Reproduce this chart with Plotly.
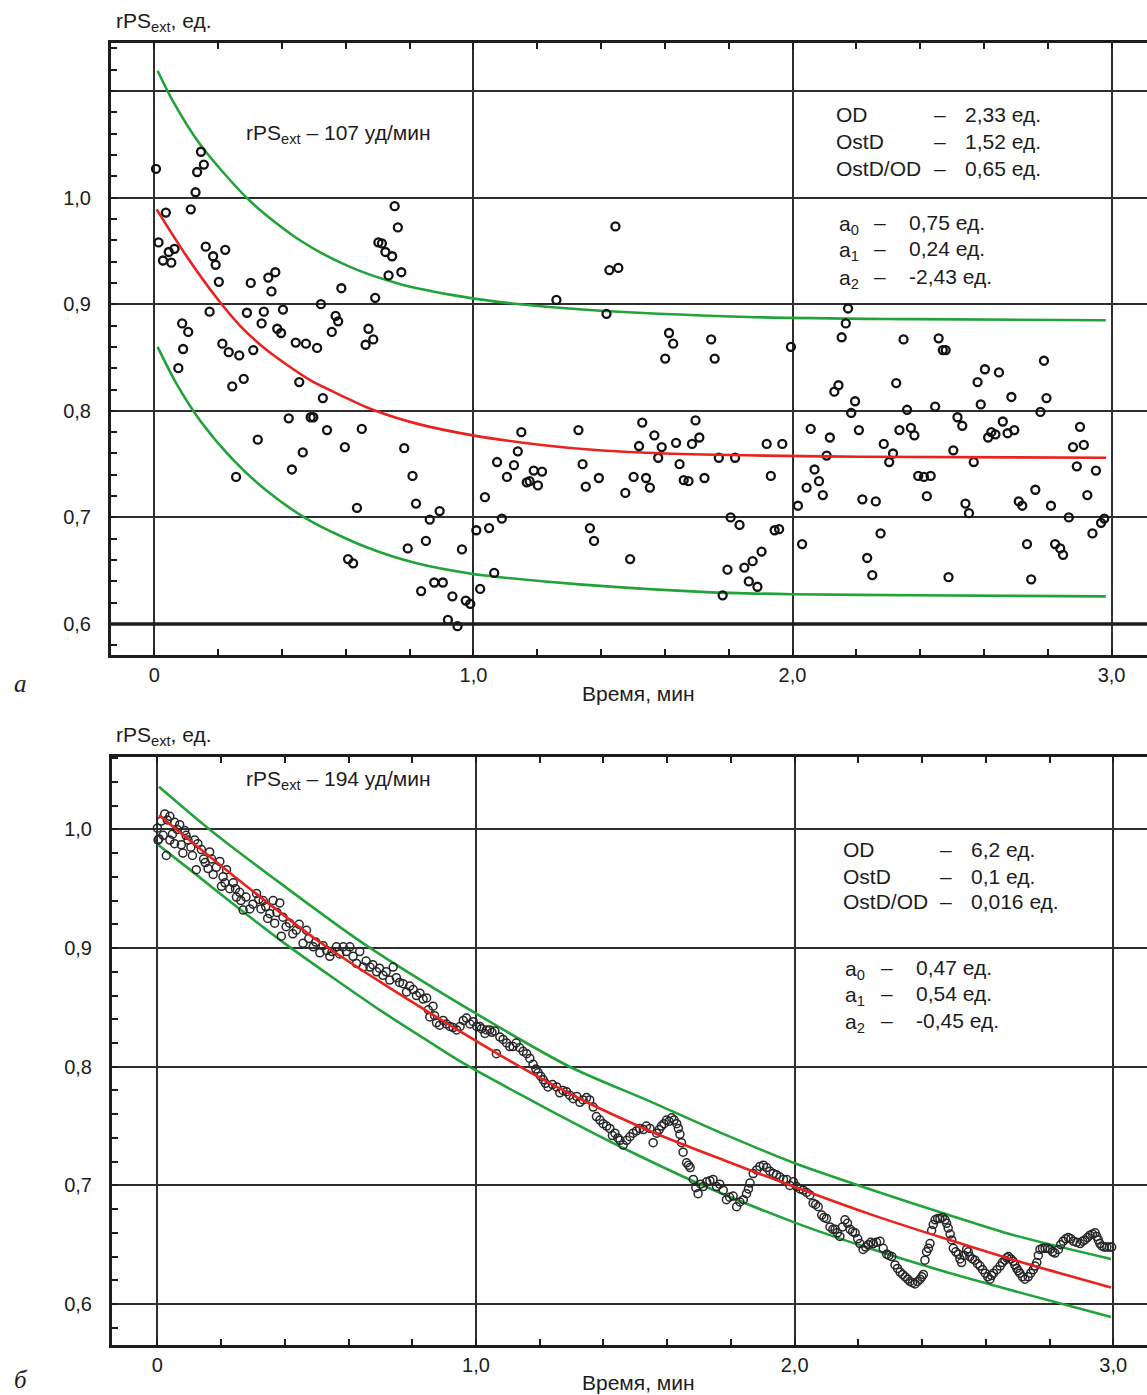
import plotly.graph_objects as go

# ---------------- Panel a (top) : rPSext 107 уд/мин ----------------
top_pts_t = [0.005, 0.146, 0.155, 0.134, 0.129, 0.114, 0.036, 0.013, 0.045, 0.063, 0.027, 0.053,
             0.161, 0.184, 0.192, 0.222, 0.202, 0.302, 0.357, 0.379, 0.367, 0.173, 0.290, 0.343,
             0.403, 0.087, 0.106, 0.336, 0.385, 0.397, 0.522, 0.568, 0.576, 0.556, 0.586, 0.692,
             0.753, 0.763, 0.702, 0.713, 0.724, 0.745, 0.734, 0.774, 0.671, 0.213, 0.443, 0.475,
             0.510, 0.662, 0.686, 0.090, 0.233, 0.266, 0.310, 0.075, 0.244, 0.280, 0.454, 0.528,
             0.421, 0.490, 0.498, 0.541, 0.324, 0.650, 0.597, 0.465, 0.431, 0.256, 0.783, 0.809,
             0.635, 0.820, 0.894, 0.863, 1.036, 1.074, 1.009, 1.049, 0.794, 0.851, 0.964, 0.607,
             0.623, 0.877, 0.904, 0.836, 0.934, 0.976, 0.990, 1.021, 1.065, 0.920, 0.950,
             1.445, 1.426, 1.454, 1.260, 1.417, 1.613, 1.626, 1.745, 1.995, 2.174, 2.167, 2.154,
             2.348, 2.458, 2.471, 2.480, 1.756, 1.601, 2.788, 2.580, 2.603, 2.647, 2.325, 2.131,
             2.144, 2.686, 2.796, 2.196, 2.184, 2.447, 2.359, 2.590, 2.777, 2.517, 2.532, 1.696,
             1.529, 1.150, 1.329, 2.057, 2.208, 2.335, 2.371, 2.382, 2.659, 2.623, 2.613, 2.636,
             2.674, 2.695, 2.901, 1.567, 1.708, 2.117, 1.519, 1.590, 1.635, 1.685, 1.919, 1.968,
             2.286, 2.879, 2.913, 1.139, 2.504, 1.579, 1.769, 1.820, 2.107, 2.315, 2.303, 2.568,
             2.891, 1.342, 1.646, 1.105, 1.127, 1.189, 1.215, 1.202, 1.167, 1.176, 1.393, 1.352,
             1.502, 1.541, 1.553, 1.659, 1.674, 1.724, 1.932, 1.476, 2.069, 2.044, 2.083, 2.095,
             2.951, 2.394, 2.412, 2.433, 2.421, 2.761, 2.924, 2.219, 2.261, 2.017, 2.542, 2.553,
             2.709, 2.720, 2.810, 2.866, 2.977, 2.967, 2.940, 1.089, 1.806, 1.834, 1.365, 1.378,
             1.944, 1.958, 2.276, 2.030, 2.735, 2.823, 2.839, 2.848, 1.491, 2.234, 1.796, 1.849,
             1.875, 1.903, 1.863, 1.890, 2.250, 2.489, 2.748, 1.781]
top_pts_y = [1.027, 1.043, 1.031, 1.024, 1.005, 0.989, 0.986, 0.958, 0.949, 0.952, 0.941, 0.939,
             0.954, 0.945, 0.937, 0.951, 0.921, 0.920, 0.925, 0.930, 0.912, 0.893, 0.892, 0.893,
             0.895, 0.882, 0.874, 0.882, 0.877, 0.873, 0.900, 0.889, 0.884, 0.874, 0.915, 0.906,
             0.992, 0.972, 0.958, 0.957, 0.949, 0.945, 0.927, 0.930, 0.877, 0.863, 0.864, 0.863,
             0.859, 0.862, 0.867, 0.858, 0.855, 0.852, 0.857, 0.840, 0.823, 0.830, 0.827, 0.812,
             0.793, 0.794, 0.794, 0.782, 0.773, 0.783, 0.766, 0.761, 0.745, 0.738, 0.765, 0.739,
             0.709, 0.713, 0.706, 0.698, 0.719, 0.752, 0.688, 0.690, 0.671, 0.678, 0.670, 0.661,
             0.657, 0.639, 0.639, 0.631, 0.626, 0.622, 0.619, 0.633, 0.648, 0.604, 0.598,
             0.973, 0.932, 0.934, 0.904, 0.891, 0.873, 0.863, 0.867, 0.860, 0.896, 0.882, 0.869,
             0.867, 0.868, 0.857, 0.857, 0.849, 0.849, 0.847, 0.827, 0.839, 0.836, 0.826, 0.818,
             0.824, 0.813, 0.812, 0.809, 0.798, 0.804, 0.801, 0.806, 0.799, 0.794, 0.786, 0.791,
             0.789, 0.780, 0.782, 0.783, 0.782, 0.782, 0.784, 0.777, 0.790, 0.780, 0.775, 0.778,
             0.779, 0.782, 0.785, 0.777, 0.775, 0.775, 0.767, 0.766, 0.770, 0.769, 0.769, 0.769,
             0.769, 0.766, 0.768, 0.762, 0.763, 0.756, 0.756, 0.756, 0.758, 0.760, 0.752, 0.752,
             0.748, 0.750, 0.750, 0.738, 0.749, 0.744, 0.743, 0.730, 0.733, 0.734, 0.737, 0.729,
             0.738, 0.737, 0.728, 0.735, 0.734, 0.737, 0.739, 0.723, 0.745, 0.728, 0.734, 0.721,
             0.744, 0.739, 0.738, 0.739, 0.720, 0.726, 0.721, 0.717, 0.715, 0.711, 0.713, 0.704,
             0.715, 0.711, 0.711, 0.700, 0.699, 0.695, 0.685, 0.699, 0.700, 0.693, 0.690, 0.678,
             0.688, 0.689, 0.685, 0.675, 0.675, 0.675, 0.671, 0.665, 0.661, 0.662, 0.651, 0.653,
             0.659, 0.668, 0.640, 0.635, 0.646, 0.644, 0.642, 0.627]

top_fit_t = [0.007, 0.101, 0.195, 0.268, 0.352, 0.487, 0.560, 0.685, 0.822, 0.998,
             1.213, 1.394, 1.601, 1.910, 2.208, 2.983]
top_fit_y = [0.989, 0.945, 0.906, 0.880, 0.857, 0.829, 0.818, 0.801, 0.788, 0.777,
             0.768, 0.763, 0.760, 0.758, 0.757, 0.756]
top_upper_t = [0.010, 0.059, 0.143, 0.299, 0.456, 0.613, 0.769, 0.926, 1.083, 1.342, 1.859,
               2.377, 2.982]
top_upper_y = [1.119, 1.090, 1.050, 0.997, 0.960, 0.935, 0.919, 0.909, 0.902, 0.895, 0.888,
               0.886, 0.885]
top_lower_t = [0.010, 0.070, 0.143, 0.247, 0.352, 0.487, 0.665, 0.822, 0.998, 1.083, 1.342,
               1.730, 1.999, 2.377, 2.982]
top_lower_y = [0.860, 0.825, 0.791, 0.754, 0.725, 0.697, 0.672, 0.657, 0.647, 0.644, 0.637,
               0.630, 0.628, 0.627, 0.626]

# ---------------- Panel б (bottom) : rPSext 194 уд/мин ----------------
bot_pts_t = [0.000, 0.002, 0.018, 0.023, 0.028, 0.039, 0.039, 0.054, 0.054, 0.070, 0.080, 0.086,
             0.096, 0.117, 0.127, 0.122, 0.164, 0.159, 0.175, 0.196, 0.217, 0.201, 0.227, 0.248,
             0.258, 0.269, 0.290, 0.311, 0.332, 0.363, 0.384, 0.353, 0.368, 0.394, 0.389, 0.415,
             0.436, 0.468, 0.457, 0.489, 0.510, 0.531, 0.541, 0.562, 0.583, 0.604, 0.635, 0.625,
             0.646, 0.667, 0.688, 0.708, 0.729, 0.750, 0.740, 0.771, 0.782, 0.803, 0.824, 0.845,
             0.865, 0.855, 0.876, 0.897, 0.918, 0.939, 0.960, 0.981, 1.002, 1.012, 1.028, 1.033,
             1.043, 1.059, 1.064, 1.075, 1.096, 1.116, 1.137, 1.159, 1.169, 1.179, 1.195, 1.211,
             1.226, 1.253, 1.273, 1.294, 1.316, 1.336, 1.357, 1.368, 1.378, 1.399, 1.420, 1.436,
             1.452, 1.462, 1.473, 1.493, 1.514, 1.535, 1.546, 1.556, 1.567, 1.582, 1.598, 1.614,
             1.630, 1.640, 1.645, 1.661, 1.672, 1.682, 1.697, 1.713, 1.724, 1.744, 1.755, 1.776,
             1.786, 1.807, 1.818, 1.839, 1.849, 1.860, 1.870, 1.891, 1.912, 1.933, 1.954, 1.975,
             1.996, 2.006, 2.027, 2.048, 2.058, 2.074, 2.085, 2.100, 2.111, 2.127, 2.142, 2.158,
             2.174, 2.190, 2.205, 2.215, 2.231, 2.247, 2.268, 2.278, 2.289, 2.305, 2.315, 2.331,
             2.347, 2.362, 2.378, 2.394, 2.404, 2.409, 2.414, 2.425, 2.430, 2.441, 2.456, 2.472,
             2.482, 2.493, 2.498, 2.514, 2.524, 2.540, 2.550, 2.566, 2.582, 2.598, 2.613, 2.624,
             2.645, 2.660, 2.671, 2.686, 2.697, 2.707, 2.723, 2.733, 2.749, 2.760, 2.770, 2.786,
             2.802, 2.817, 2.828, 2.843, 2.859, 2.875, 2.896, 2.911, 2.927, 2.943, 2.953, 2.964,
             2.980, 2.995,
             0.005, 0.012, 0.031, 0.047, 0.062, 0.075, 0.090, 0.105, 0.110, 0.138, 0.145, 0.150,
             0.170, 0.185, 0.206, 0.212, 0.238, 0.245, 0.262, 0.278, 0.300, 0.318, 0.325, 0.340,
             0.346, 0.375, 0.404, 0.425, 0.445, 0.475, 0.497, 0.520, 0.548, 0.572, 0.593, 0.614,
             0.655, 0.676, 0.697, 0.718, 0.760, 0.792, 0.813, 0.834, 0.850, 0.870, 0.886, 0.907,
             0.928, 0.950, 0.970, 0.991, 1.017, 1.050, 1.085, 1.106, 1.126, 1.148, 1.188, 1.203,
             1.218, 1.240, 1.263, 1.284, 1.305, 1.326, 1.347, 1.389, 1.410, 1.428, 1.445, 1.483,
             1.504, 1.525, 1.575, 1.590, 1.606, 1.622, 1.635, 1.650, 1.667, 1.690, 1.705, 1.734,
             1.765, 1.796, 1.828, 1.855, 1.881, 1.902, 1.922, 1.943, 1.965, 1.985, 2.017, 2.038,
             2.066, 2.092, 2.120, 2.134, 2.150, 2.166, 2.182, 2.198, 2.223, 2.239, 2.257, 2.296,
             2.323, 2.339, 2.355, 2.370, 2.386, 2.399, 2.420, 2.435, 2.449, 2.464, 2.477, 2.488,
             2.506, 2.519, 2.532, 2.545, 2.558, 2.574, 2.590, 2.606, 2.618, 2.635, 2.652, 2.666,
             2.679, 2.691, 2.702, 2.715, 2.741, 2.755, 2.765, 2.778, 2.794, 2.810, 2.835, 2.851,
             2.867, 2.885, 2.904, 2.919, 2.935, 2.948, 2.958, 2.972, 2.988]
bot_pts_y = [1.001, 0.991, 0.995, 1.013, 0.978, 1.011, 0.991, 1.006, 0.988, 1.004, 0.980, 0.999,
             0.991, 0.991, 0.988, 0.966, 0.981, 0.967, 0.962, 0.973, 0.966, 0.952, 0.950, 0.943,
             0.947, 0.932, 0.933, 0.946, 0.940, 0.940, 0.938, 0.929, 0.921, 0.926, 0.910, 0.921,
             0.915, 0.915, 0.904, 0.901, 0.896, 0.898, 0.893, 0.901, 0.901, 0.901, 0.897, 0.887,
             0.884, 0.884, 0.880, 0.877, 0.873, 0.875, 0.884, 0.870, 0.863, 0.865, 0.862, 0.858,
             0.851, 0.842, 0.837, 0.839, 0.834, 0.831, 0.839, 0.836, 0.834, 0.834, 0.828, 0.831,
             0.831, 0.830, 0.811, 0.825, 0.820, 0.817, 0.816, 0.811, 0.807, 0.802, 0.795, 0.789,
             0.783, 0.783, 0.780, 0.776, 0.775, 0.772, 0.772, 0.766, 0.758, 0.752, 0.748, 0.744,
             0.738, 0.734, 0.738, 0.744, 0.748, 0.750, 0.748, 0.736, 0.744, 0.750, 0.755, 0.757,
             0.752, 0.743, 0.736, 0.719, 0.715, 0.705, 0.693, 0.699, 0.703, 0.705, 0.699, 0.696,
             0.688, 0.691, 0.682, 0.688, 0.693, 0.702, 0.710, 0.716, 0.715, 0.710, 0.707, 0.705,
             0.703, 0.699, 0.696, 0.692, 0.685, 0.682, 0.675, 0.672, 0.665, 0.663, 0.657, 0.671,
             0.663, 0.660, 0.651, 0.646, 0.650, 0.651, 0.653, 0.647, 0.642, 0.640, 0.633, 0.627,
             0.623, 0.619, 0.617, 0.621, 0.625, 0.637, 0.644, 0.651, 0.662, 0.671, 0.672, 0.671,
             0.664, 0.654, 0.647, 0.642, 0.635, 0.646, 0.640, 0.637, 0.632, 0.626, 0.621, 0.626,
             0.632, 0.637, 0.640, 0.636, 0.630, 0.626, 0.621, 0.623, 0.629, 0.635, 0.646, 0.647,
             0.646, 0.643, 0.646, 0.653, 0.656, 0.653, 0.651, 0.654, 0.658, 0.660, 0.654, 0.649,
             0.648, 0.648,
             0.992, 1.007, 1.008, 0.996, 1.000, 0.987, 0.995, 0.985, 0.978, 0.983, 0.975, 0.972,
             0.975, 0.968, 0.960, 0.955, 0.955, 0.950, 0.940, 0.943, 0.937, 0.941, 0.933, 0.935,
             0.925, 0.930, 0.918, 0.912, 0.920, 0.908, 0.905, 0.902, 0.897, 0.895, 0.897, 0.893,
             0.889, 0.886, 0.883, 0.880, 0.871, 0.868, 0.860, 0.857, 0.848, 0.843, 0.835, 0.836,
             0.833, 0.834, 0.841, 0.838, 0.832, 0.829, 0.823, 0.817, 0.820, 0.813, 0.798, 0.792,
             0.786, 0.785, 0.778, 0.779, 0.773, 0.770, 0.774, 0.755, 0.750, 0.742, 0.740, 0.741,
             0.746, 0.747, 0.747, 0.752, 0.754, 0.755, 0.748, 0.728, 0.717, 0.698, 0.701, 0.704,
             0.701, 0.690, 0.686, 0.697, 0.713, 0.717, 0.712, 0.709, 0.705, 0.700, 0.697, 0.694,
             0.684, 0.673, 0.663, 0.660, 0.665, 0.668, 0.661, 0.655, 0.648, 0.652, 0.652, 0.641,
             0.630, 0.625, 0.621, 0.618, 0.619, 0.623, 0.647, 0.667, 0.672, 0.673, 0.668, 0.659,
             0.644, 0.638, 0.641, 0.644, 0.638, 0.634, 0.629, 0.623, 0.624, 0.629, 0.635, 0.639,
             0.638, 0.633, 0.628, 0.623, 0.626, 0.632, 0.641, 0.647, 0.647, 0.644, 0.650, 0.655,
             0.655, 0.652, 0.653, 0.656, 0.659, 0.657, 0.651, 0.648, 0.648]

bot_fit_t = [0.005, 0.290, 0.499, 0.708, 0.949, 1.106, 1.326, 1.553, 1.780, 2.007, 2.234,
             2.462, 2.689, 2.993]
bot_fit_y = [1.012, 0.950, 0.907, 0.870, 0.830, 0.805, 0.773, 0.745, 0.721, 0.698, 0.676,
             0.656, 0.637, 0.614]
bot_upper_t = [0.005, 0.164, 0.394, 0.646, 1.043, 1.294, 1.553, 1.780, 2.007, 2.234,
               2.462, 2.689, 2.993]
bot_upper_y = [1.036, 1.000, 0.953, 0.904, 0.838, 0.800, 0.770, 0.743, 0.718, 0.697,
               0.677, 0.658, 0.638]
bot_lower_t = [0.002, 0.112, 0.248, 0.394, 0.551, 0.708, 0.865, 0.960, 1.143, 1.326, 1.473,
               1.703, 2.007, 2.234, 2.462, 2.689, 2.993]
bot_lower_y = [0.987, 0.964, 0.935, 0.905, 0.875, 0.846, 0.819, 0.803, 0.776, 0.750, 0.730,
               0.701, 0.668, 0.647, 0.628, 0.611, 0.589]

x_tickvals = [0, 1, 2, 3]
x_ticktext = ["0", "1,0", "2,0", "3,0"]
top_y_tickvals = [0.6, 0.7, 0.8, 0.9, 1.0, 1.1]
top_y_ticktext = ["0,6", "0,7", "0,8", "0,9", "1,0", ""]
bot_y_tickvals = [0.6, 0.7, 0.8, 0.9, 1.0]
bot_y_ticktext = ["0,6", "0,7", "0,8", "0,9", "1,0"]

top_info_labels = ["OD", "OstD", "OstD/OD"]
top_info_values = ["2,33 ед.", "1,52 ед.", "0,65 ед."]
top_coef_labels = ["a<sub>0</sub>", "a<sub>1</sub>", "a<sub>2</sub>"]
top_coef_values = ["0,75 ед.", "0,24 ед.", "-2,43 ед."]
bot_info_values = ["6,2 ед.", "0,1 ед.", "0,016 ед."]
bot_coef_values = ["0,47 ед.", "0,54 ед.", "-0,45 ед."]

GREEN = "#22a33a"
RED = "#e8231f"
GRID = "#2e2e2e"
INK = "#1c1c1c"
FONT = "Liberation Sans, Arial, sans-serif"

fig = go.Figure()

def add_panel(xa, ya, pts_t, pts_y, fit_t, fit_y, up_t, up_y, lo_t, lo_y, msize, mwidth, mcolor):
    for t, y in [(up_t, up_y), (lo_t, lo_y)]:
        fig.add_trace(go.Scatter(x=t, y=y, mode="lines", xaxis=xa, yaxis=ya,
                                 line=dict(color=GREEN, width=2.6, shape="spline", smoothing=0.8),
                                 hoverinfo="skip"))
    fig.add_trace(go.Scatter(x=pts_t, y=pts_y, mode="markers", xaxis=xa, yaxis=ya,
                             marker=dict(symbol="circle-open", size=msize, color=mcolor,
                                         line=dict(width=mwidth, color=mcolor))))
    fig.add_trace(go.Scatter(x=fit_t, y=fit_y, mode="lines", xaxis=xa, yaxis=ya,
                             line=dict(color=RED, width=2.6, shape="spline", smoothing=0.8),
                             hoverinfo="skip"))

add_panel("x", "y", top_pts_t, top_pts_y, top_fit_t, top_fit_y,
          top_upper_t, top_upper_y, top_lower_t, top_lower_y, 8, 2.3, "#111111")
add_panel("x2", "y2", bot_pts_t, bot_pts_y, bot_fit_t, bot_fit_y,
          bot_upper_t, bot_upper_y, bot_lower_t, bot_lower_y, 8, 1.5, "#262626")

W, H = 1147, 1395

def px(x):
    return x / W

def py(y):
    return 1 - y / H

def xaxis_cfg(domain, rng, anchor):
    return dict(domain=domain, range=rng, anchor=anchor,
                tickmode="array", tickvals=x_tickvals, ticktext=x_ticktext,
                showgrid=True, gridcolor=GRID, gridwidth=2, zeroline=False,
                showline=True, linecolor=INK, linewidth=3, mirror="ticks",
                ticks="", tickfont=dict(size=20, color=INK, family=FONT),
                ticklabelstandoff=0,
                minor=dict(tick0=0, dtick=0.2, ticks="inside", ticklen=6, tickwidth=2,
                           tickcolor=INK, showgrid=False))

def yaxis_cfg(domain, rng, anchor, vals, text):
    return dict(domain=domain, range=rng, anchor=anchor,
                tickmode="array", tickvals=vals, ticktext=text,
                showgrid=True, gridcolor=GRID, gridwidth=2, zeroline=False,
                showline=True, linecolor=INK, linewidth=3, mirror=False,
                ticks="inside", ticklen=6, tickwidth=2, tickcolor=INK,
                tickfont=dict(size=20, color=INK, family=FONT),
                ticklabelstandoff=13,
                minor=dict(tick0=0, dtick=0.02, ticks="inside", ticklen=6, tickwidth=2,
                           tickcolor=INK, showgrid=False))

annotations = []

def txt(x, y, s, size=21, xanchor="left", family=FONT):
    annotations.append(dict(x=px(x), y=py(y), xref="paper", yref="paper", text=s,
                            showarrow=False, xanchor=xanchor, yanchor="middle",
                            font=dict(size=size, color=INK, family=family)))

# top panel texts
txt(114, 22, "rPS<sub>ext</sub>, ед.", size=21)
txt(244, 134, "rPS<sub>ext</sub> – 107 уд/мин")
for i, yy in enumerate([114, 141, 168]):
    txt(834, yy, top_info_labels[i])
    txt(940, yy, "–", xanchor="center")
    txt(963, yy, top_info_values[i])
for i, yy in enumerate([222, 248, 276]):
    txt(837, yy + 3, top_coef_labels[i])
    txt(880, yy, "–", xanchor="center")
    txt(907, yy, top_coef_values[i])
txt(638, 693, "Время, мин", xanchor="center")
txt(12, 684, "<i>а</i>", size=25, family="Liberation Serif, DejaVu Serif, serif")

# bottom panel texts
txt(114, 736, "rPS<sub>ext</sub>, ед.", size=21)
txt(244, 780, "rPS<sub>ext</sub> – 194 уд/мин")
for i, yy in enumerate([849, 876, 901]):
    txt(841, yy, top_info_labels[i])
    txt(946, yy, "–", xanchor="center")
    txt(969, yy, bot_info_values[i])
for i, yy in enumerate([967, 993, 1020]):
    txt(843, yy + 3, top_coef_labels[i])
    txt(887, yy, "–", xanchor="center")
    txt(914, yy, bot_coef_values[i])
txt(638, 1382, "Время, мин", xanchor="center")
txt(12, 1379, "<i>б</i>", size=25, family="Liberation Serif, DejaVu Serif, serif")

shapes = [dict(type="line", xref="x domain", yref="y", x0=0, x1=1, y0=0.6, y1=0.6,
               line=dict(color=INK, width=3.5), layer="above")]

fig.update_layout(
    width=W, height=H, margin=dict(l=0, r=0, t=0, b=0),
    paper_bgcolor="white", plot_bgcolor="white", showlegend=False,
    font=dict(family=FONT, color=INK),
    xaxis=xaxis_cfg([px(111), 1.0], [-0.136, 3.111], "y"),
    yaxis=yaxis_cfg([py(655), py(43)], [0.571, 1.145], "x", top_y_tickvals, top_y_ticktext),
    xaxis2=xaxis_cfg([px(112), 1.0], [-0.1425, 3.106], "y2"),
    yaxis2=yaxis_cfg([py(1345), py(757)], [0.5655, 1.061], "x2", bot_y_tickvals, bot_y_ticktext),
    annotations=annotations,
    shapes=shapes,
)

fig.write_html("out.html")
